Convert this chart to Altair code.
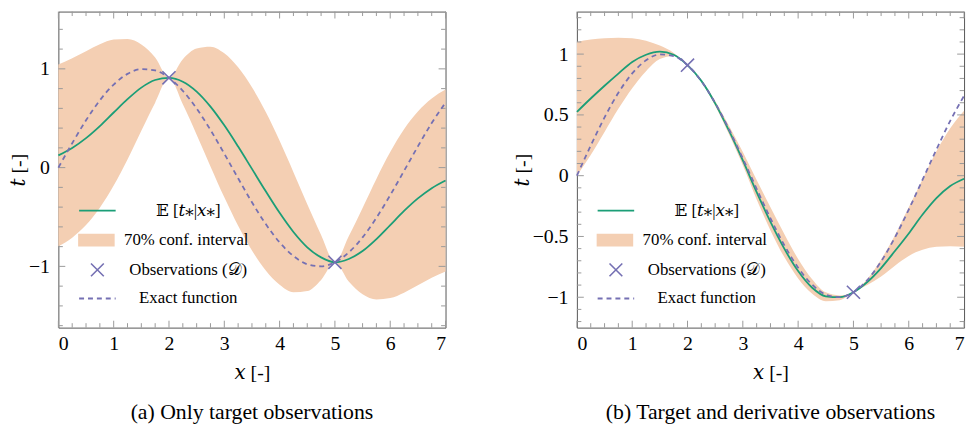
import altair as alt
import pandas as pd

# ---------------- data ----------------
x_vals = [0.0, 0.25, 0.5, 0.75, 1.0, 1.25, 1.5, 1.75, 2.0, 2.25, 2.5, 2.75, 3.0, 3.25,
          3.5, 3.75, 4.0, 4.25, 4.5, 4.75, 5.0, 5.25, 5.5, 5.75, 6.0, 6.25, 6.5, 6.75, 7.0]

exact_vals = [0.0, 0.247, 0.479, 0.682, 0.841, 0.949, 0.997, 0.984, 0.909, 0.778, 0.598,
              0.382, 0.141, -0.108, -0.351, -0.572, -0.757, -0.895, -0.978, -0.999, -0.959,
              -0.859, -0.706, -0.508, -0.279, -0.033, 0.215, 0.451, 0.657]

# (a) only target observations
a_mean = [0.124, 0.199, 0.299, 0.421, 0.558, 0.693, 0.810, 0.887, 0.909, 0.870, 0.770,
          0.618, 0.428, 0.213, -0.013, -0.240, -0.458, -0.652, -0.807, -0.909, -0.959,
          -0.925, -0.845, -0.724, -0.582, -0.439, -0.312, -0.208, -0.130]
a_upper = [1.045, 1.107, 1.179, 1.248, 1.297, 1.303, 1.247, 1.116, 0.909, 1.098, 1.206,
           1.224, 1.157, 1.015, 0.813, 0.562, 0.271, -0.046, -0.371, -0.681, -0.959,
           -0.696, -0.408, -0.114, 0.157, 0.388, 0.568, 0.700, 0.791]
a_lower = [-0.797, -0.709, -0.581, -0.406, -0.181, 0.083, 0.373, 0.658, 0.909, 0.642, 0.334,
           0.012, -0.301, -0.589, -0.839, -1.042, -1.187, -1.262, -1.250, -1.137, -0.959,
           -1.154, -1.282, -1.334, -1.321, -1.266, -1.192, -1.116, -1.051]

# (b) target and derivative observations
b_mean = [0.525, 0.635, 0.740, 0.840, 0.935, 0.995, 1.020, 0.995, 0.909, 0.780, 0.595,
          0.370, 0.125, -0.135, -0.380, -0.600, -0.785, -0.920, -0.992, -1.000, -0.959,
          -0.875, -0.760, -0.620, -0.475, -0.320, -0.185, -0.085, -0.025]
b_upper = [1.100, 1.120, 1.130, 1.135, 1.130, 1.110, 1.070, 1.010, 0.909, 0.790, 0.615,
           0.410, 0.195, -0.035, -0.260, -0.480, -0.685, -0.850, -0.960, -0.985, -0.959,
           -0.850, -0.690, -0.490, -0.260, -0.030, 0.200, 0.390, 0.535]
b_lower = [0.000, 0.170, 0.360, 0.550, 0.720, 0.860, 0.960, 0.985, 0.909, 0.770, 0.575,
           0.340, 0.085, -0.195, -0.450, -0.670, -0.845, -0.970, -1.033, -1.025, -0.959,
           -0.900, -0.830, -0.740, -0.660, -0.610, -0.585, -0.580, -0.585]

obs_x = [2.0, 5.0]
obs_t = [0.909, -0.959]

x_major = [0, 1, 2, 3, 4, 5, 6, 7]
x_minor = [0.25, 0.5, 0.75, 1.25, 1.5, 1.75, 2.25, 2.5, 2.75, 3.25, 3.5, 3.75, 4.25, 4.5,
           4.75, 5.25, 5.5, 5.75, 6.25, 6.5, 6.75]
a_y_major = [-1, 0, 1]
a_y_minor = [-1.6, -1.4, -1.2, -0.8, -0.6, -0.4, -0.2, 0.2, 0.4, 0.6, 0.8, 1.2, 1.4]
b_y_major = [-1, -0.5, 0, 0.5, 1]
b_y_minor = [-1.2, -1.1, -0.9, -0.8, -0.7, -0.6, -0.4, -0.3, -0.2, -0.1, 0.1, 0.2, 0.3,
             0.4, 0.6, 0.7, 0.8, 0.9, 1.1, 1.2, 1.3]
a_y_domain = [-1.62, 1.58]
b_y_domain = [-1.25, 1.35]

L_MEAN = "𝔼 [𝑡⁎|𝑥⁎]"
L_BAND = "70% conf. interval"
L_OBS = "Observations (𝒟)"
L_EXACT = "Exact function"

captions = ["(a) Only target observations", "(b) Target and derivative observations"]

# ---------------- styles ----------------
GREEN = "#1b9e77"
PURPLE = "#7570b3"
BAND = "#f4cfb3"
TICK = "#999999"
SERIF = "Liberation Serif, Times New Roman, DejaVu Serif, serif"
W, H = 392, 320

XPATH = "M-0.7,-0.7L0.7,0.7M-0.7,0.7L0.7,-0.7"
RECT = "M-2,-0.7H2V0.7H-2Z"
LINE = "M-2,0H2"

LEG_X = 29
ROW_Y = [191, 222, 251, 280]


def leg(row, **kw):
    base = dict(title=None, orient="none", legendX=LEG_X, legendY=ROW_Y[row], padding=0,
                labelFont=SERIF, labelFontSize=17, labelColor="black", labelAlign="center",
                labelOffset=81.5, symbolSize=342, symbolOpacity=1, labelLimit=300)
    base.update(kw)
    return alt.Legend(**base)


def tick_layers(xs, ys, xax, yax, y_major, y_minor):
    out = []
    specs = [
        (x_major, "x", 7), (x_minor, "x", 4.5),
        (y_major, "y", 7), (y_minor, "y", 4.5),
    ]
    for vals, ch, ln in specs:
        d = pd.DataFrame({"v": vals})
        if ch == "x":
            for y0, y1 in [(H, H - ln), (0, ln)]:
                out.append(alt.Chart(d).mark_rule(color=TICK, strokeWidth=1).encode(
                    x=alt.X("v:Q", scale=xs, axis=xax),
                    y=alt.value(y0), y2=alt.value(y1)))
        else:
            for x0, x1 in [(0, ln), (W, W - ln)]:
                out.append(alt.Chart(d).mark_rule(color=TICK, strokeWidth=1).encode(
                    y=alt.Y("v:Q", scale=ys, axis=yax),
                    x=alt.value(x0), x2=alt.value(x1)))
    return out


def panel(mean, lower, upper, y_domain, y_major, y_minor, caption):
    df = pd.DataFrame({"x": x_vals, "mean": mean, "lower": lower, "upper": upper,
                       "exact": exact_vals, "s_mean": L_MEAN, "s_band": L_BAND,
                       "s_exact": L_EXACT})
    obs = pd.DataFrame({"x": obs_x, "t": obs_t, "s_obs": L_OBS})
    xs = alt.Scale(domain=[0, 7], nice=False, zero=False)
    ys = alt.Scale(domain=y_domain, nice=False, zero=False)
    xax = alt.Axis(values=x_major, title="𝑥 [-]", format="d", labelPadding=6,
                   titlePadding=10, labelFont=SERIF, titleFont=SERIF)
    yax = alt.Axis(values=y_major, title="𝑡 [-]", format="~g", labelPadding=9,
                   titlePadding=0, labelFont=SERIF, titleFont=SERIF)

    band = alt.Chart(df).mark_area(opacity=1, interpolate="monotone").encode(
        x=alt.X("x:Q", scale=xs, axis=xax),
        y=alt.Y("lower:Q", scale=ys, axis=yax),
        y2="upper:Q",
        fill=alt.Fill("s_band:N", scale=alt.Scale(domain=[L_BAND], range=[BAND]),
                      legend=leg(1, symbolType=RECT, symbolStrokeWidth=0)),
    )
    mean_line = alt.Chart(df).mark_line(strokeWidth=1.8, interpolate="monotone").encode(
        x=alt.X("x:Q", scale=xs, axis=xax),
        y=alt.Y("mean:Q", scale=ys, axis=yax),
        color=alt.Color("s_mean:N", scale=alt.Scale(domain=[L_MEAN], range=[GREEN]),
                        legend=leg(0, symbolType=LINE, symbolStrokeWidth=1.8)),
    )
    exact = alt.Chart(df).mark_line(color=PURPLE, strokeWidth=1.8,
                                    interpolate="monotone").encode(
        x=alt.X("x:Q", scale=xs, axis=xax),
        y=alt.Y("exact:Q", scale=ys, axis=yax),
        strokeDash=alt.StrokeDash("s_exact:N", scale=alt.Scale(domain=[L_EXACT], range=[[5, 4]]),
                                  legend=leg(3, symbolType=LINE, symbolStrokeWidth=1.8,
                                             symbolStrokeColor=PURPLE, symbolDash=[5, 4])),
    )
    pts = alt.Chart(obs).mark_point(size=360, color=PURPLE, filled=False,
                                    strokeWidth=1.6, opacity=1).encode(
        x=alt.X("x:Q", scale=xs, axis=xax),
        y=alt.Y("t:Q", scale=ys, axis=yax),
        shape=alt.Shape("s_obs:N", scale=alt.Scale(domain=[L_OBS], range=[XPATH]),
                        legend=leg(2, symbolStrokeWidth=1.6, symbolStrokeColor=PURPLE)),
    )
    layers = [band] + tick_layers(xs, ys, xax, yax, y_major, y_minor) + [mean_line, exact, pts]
    return alt.layer(*layers).properties(
        width=W, height=H,
        title=alt.TitleParams(caption, orient="bottom", font=SERIF, fontSize=22,
                              fontWeight="normal", color="black", offset=20),
    )


left = panel(a_mean, a_lower, a_upper, a_y_domain, a_y_major, a_y_minor, captions[0])
right = panel(b_mean, b_lower, b_upper, b_y_domain, b_y_major, b_y_minor, captions[1])

chart = alt.hconcat(left, right, spacing=133, bounds="flush").resolve_scale(
    x="independent", y="independent", color="independent", fill="independent",
    shape="independent", strokeDash="independent"
).resolve_legend(
    color="independent", fill="independent", shape="independent", strokeDash="independent"
).properties(
    padding={"left": 0, "top": 0, "right": 0, "bottom": 0}
).configure_view(stroke="#555555", strokeWidth=1).configure_axis(
    domain=False, ticks=False, tickSize=0, grid=False,
    labelFont=SERIF, labelFontSize=20, labelColor="black",
    titleFont=SERIF, titleFontSize=20, titleFontWeight="normal", titleColor="black",
)

chart.save("out.html", embed_options={"renderer": "svg", "actions": False})
